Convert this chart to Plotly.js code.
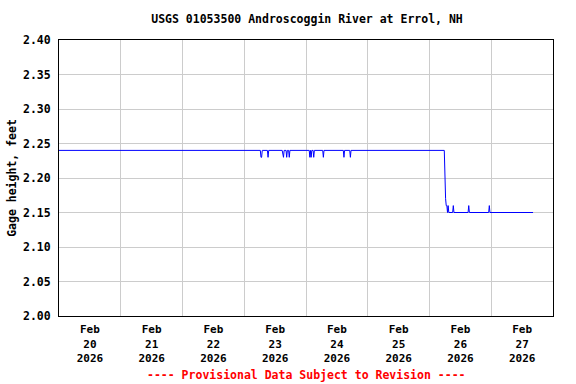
<!DOCTYPE html>
<html>
<head>
<meta charset="utf-8">
<script src="https://cdn.plot.ly/plotly-3.0.1.min.js"></script>
<style>html,body{margin:0;padding:0;background:#fff;}#chart{width:576px;height:384px;}</style>
</head>
<body>
<div id="chart"></div>
<script>
// Gage height readings (change points of the 15-minute record)
const times = [
  "2026-02-20 00:00",
  "2026-02-23 06:15", "2026-02-23 06:30", "2026-02-23 06:45", "2026-02-23 07:00",
  "2026-02-23 09:00", "2026-02-23 09:15", "2026-02-23 09:30",
  "2026-02-23 14:45", "2026-02-23 15:00", "2026-02-23 15:15", "2026-02-23 15:30",
  "2026-02-23 16:15", "2026-02-23 16:30", "2026-02-23 16:45",
  "2026-02-23 17:15", "2026-02-23 17:30", "2026-02-23 17:45",
  "2026-02-24 01:15", "2026-02-24 01:30", "2026-02-24 01:45", "2026-02-24 02:00", "2026-02-24 02:15",
  "2026-02-24 02:45", "2026-02-24 03:00", "2026-02-24 03:15",
  "2026-02-24 06:30", "2026-02-24 06:45", "2026-02-24 07:00",
  "2026-02-24 14:30", "2026-02-24 14:45", "2026-02-24 15:00",
  "2026-02-24 17:00", "2026-02-24 17:15", "2026-02-24 17:30",
  "2026-02-26 05:45", "2026-02-26 06:00", "2026-02-26 06:15", "2026-02-26 06:30", "2026-02-26 06:45", "2026-02-26 07:00",
  "2026-02-26 07:15", "2026-02-26 07:30",
  "2026-02-26 09:00", "2026-02-26 09:15", "2026-02-26 09:30",
  "2026-02-26 15:00", "2026-02-26 15:15", "2026-02-26 15:30",
  "2026-02-26 23:00", "2026-02-26 23:15", "2026-02-26 23:30",
  "2026-02-27 16:15"
];
const gageHeight = [
  2.24,
  2.24, 2.23, 2.23, 2.24,
  2.24, 2.23, 2.24,
  2.24, 2.23, 2.23, 2.24,
  2.24, 2.23, 2.24,
  2.24, 2.23, 2.24,
  2.24, 2.23, 2.24, 2.23, 2.24,
  2.24, 2.23, 2.24,
  2.24, 2.23, 2.24,
  2.24, 2.23, 2.24,
  2.24, 2.23, 2.24,
  2.24, 2.17, 2.17, 2.16, 2.16, 2.15,
  2.16, 2.15,
  2.15, 2.16, 2.15,
  2.15, 2.16, 2.15,
  2.15, 2.16, 2.15,
  2.15
];
const tickPositions = ["2026-02-20 12:00","2026-02-21 12:00","2026-02-22 12:00","2026-02-23 12:00",
                       "2026-02-24 12:00","2026-02-25 12:00","2026-02-26 12:00","2026-02-27 12:00"];
const tickLabels = ["Feb<br>20<br>2026","Feb<br>21<br>2026","Feb<br>22<br>2026","Feb<br>23<br>2026",
                    "Feb<br>24<br>2026","Feb<br>25<br>2026","Feb<br>26<br>2026","Feb<br>27<br>2026"];
const yTicks = [2.00, 2.05, 2.10, 2.15, 2.20, 2.25, 2.30, 2.35, 2.40];
const yTickLabels = ["2.00","2.05","2.10","2.15","2.20","2.25","2.30","2.35","2.40"];

const mono = "DejaVu Sans Mono, Liberation Mono, monospace";

Plotly.newPlot("chart", [{
  x: times, y: gageHeight, type: "scatter", mode: "lines",
  line: {color: "#0000ff", width: 1, shape: "linear"},
  hoverinfo: "skip"
}], {
  width: 576, height: 384,
  margin: {l: 59, r: 23, t: 40, b: 68},
  paper_bgcolor: "#fff", plot_bgcolor: "#fff",
  showlegend: false,
  title: {text: "USGS 01053500 Androscoggin River at Errol, NH", x: 0.533, xanchor: "center", y: 0.95, yanchor: "middle",
          font: {family: mono, size: 11.5, color: "#000", weight: "bold"}},
  font: {family: mono, size: 11.5, color: "#000", weight: "bold"},
  xaxis: {
    type: "date", range: ["2026-02-20 00:00", "2026-02-28 00:00"],
    tickmode: "array", tickvals: tickPositions, ticktext: tickLabels,
    showgrid: false, ticks: "", zeroline: false, ticklabelstandoff: 3,
    showline: true, linecolor: "#000", linewidth: 1, mirror: true,
    tickfont: {family: mono, size: 11, color: "#000", weight: "bold"},
    minor: {tick0: "2026-02-20 00:00", dtick: 86400000, showgrid: true, gridcolor: "#cccccc", gridwidth: 1, ticks: ""}
  },
  yaxis: {
    range: [2.0, 2.4], tickmode: "array", tickvals: yTicks, ticktext: yTickLabels,
    showgrid: true, gridcolor: "#cccccc", gridwidth: 1, zeroline: false, ticks: "", ticklabelstandoff: 5,
    showline: true, linecolor: "#000", linewidth: 1, mirror: true,
    tickfont: {family: mono, size: 11.5, color: "#000", weight: "bold"},
    title: {text: "Gage height, feet", standoff: 3, font: {family: mono, size: 11.5, color: "#000", weight: "bold"}}
  },
  annotations: [{
    text: "---- Provisional Data Subject to Revision ----",
    xref: "paper", yref: "paper", x: 0.5, y: -0.215, xanchor: "center", yanchor: "middle",
    showarrow: false, font: {family: mono, size: 11.5, color: "#ff0000", weight: "bold"}
  }]
}, {displayModeBar: false, staticPlot: true});
</script>
</body>
</html>
